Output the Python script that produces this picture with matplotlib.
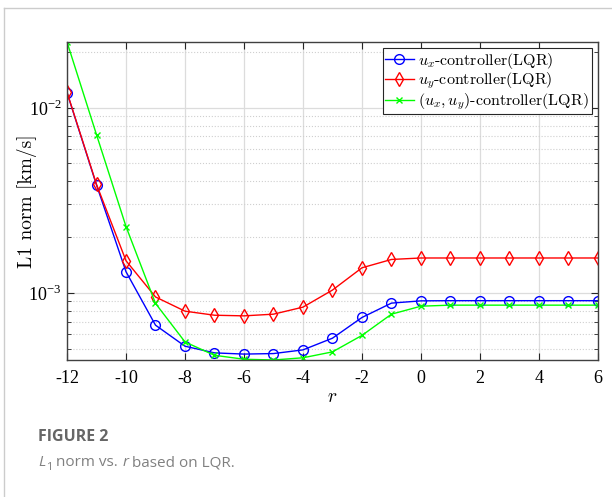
import math
import matplotlib
matplotlib.use('Agg')
import matplotlib.pyplot as plt
from matplotlib.ticker import LogLocator, NullFormatter, FixedLocator, FuncFormatter

plt.rcParams['mathtext.fontset'] = 'cm'

r = [-12, -11, -10, -9, -8, -7, -6, -5, -4, -3, -2, -1, 0, 1, 2, 3, 4, 5, 6]

# L1 norm [km/s]
ux_lqr = [1.205e-2, 3.82e-3, 1.30e-3, 6.69e-4, 5.15e-4, 4.74e-4, 4.67e-4, 4.70e-4, 4.92e-4,
          5.69e-4, 7.36e-4, 8.80e-4, 9.05e-4, 9.07e-4, 9.07e-4, 9.07e-4, 9.07e-4, 9.07e-4, 9.07e-4]
uy_lqr = [1.21e-2, 3.85e-3, 1.49e-3, 9.50e-4, 7.96e-4, 7.57e-4, 7.51e-4, 7.67e-4, 8.37e-4,
          1.035e-3, 1.365e-3, 1.514e-3, 1.542e-3, 1.542e-3, 1.542e-3, 1.542e-3, 1.542e-3, 1.542e-3, 1.542e-3]
uxy_lqr = [2.26e-2, 7.14e-3, 2.28e-3, 8.77e-4, 5.43e-4, 4.60e-4, 4.38e-4, 4.34e-4, 4.46e-4,
           4.80e-4, 5.89e-4, 7.67e-4, 8.47e-4, 8.58e-4, 8.58e-4, 8.58e-4, 8.58e-4, 8.58e-4, 8.58e-4]

labels = [r'$u_x$-controller(LQR)', r'$u_y$-controller(LQR)', r'$(u_x,u_y)$-controller(LQR)']
xticks = [-12, -10, -8, -6, -4, -2, 0, 2, 4, 6]

fig = plt.figure(figsize=(6.12, 4.97), dpi=100)
ax = fig.add_axes([0.1095, 0.2757, 0.8675, 0.6398])

ax.plot(r, ux_lqr, color=(0, 0, 1), marker='o', ms=7, mfc='none', lw=1, label=labels[0])
ax.plot(r, uy_lqr, color=(1, 0, 0), marker='d', ms=7, mfc='none', lw=1, label=labels[1])
ax.plot(r, uxy_lqr, color=(0, 1, 0), marker='x', ms=5, lw=1, label=labels[2])

ax.set_yscale('log')
ax.set_xlim(-12, 6)
ax.set_ylim(4.34e-4, 2.26e-2)
ax.xaxis.set_major_locator(FixedLocator(xticks))
ax.set_xticklabels([str(t) for t in xticks])
ax.yaxis.set_major_locator(LogLocator(base=10, numticks=10))
ax.yaxis.set_minor_locator(LogLocator(base=10, subs=range(2, 10), numticks=20))
ax.yaxis.set_minor_formatter(NullFormatter())

def dec_fmt(v, pos):
    e = int(round(math.log10(v)))
    return r'10$^{\mathregular{%d}}$' % e

ax.yaxis.set_major_formatter(FuncFormatter(dec_fmt))
ax.tick_params(labelfontfamily='Liberation Serif', labelsize=13)
ax.tick_params(axis='x', pad=7)

ax.grid(True, which='major', color='#dcdcdc', lw=0.9, ls='-')
ax.grid(True, which='minor', axis='y', color='#cfcfcf', lw=0.8, ls=':')
ax.set_axisbelow(True)
ax.tick_params(which='both', direction='in', top=True, right=True, color='#262626')
ax.tick_params(which='major', length=5)
ax.tick_params(which='minor', length=3)
for s in ax.spines.values():
    s.set_color('#404040')
    s.set_linewidth(1.0)

ax.set_xlabel(r'$r$', fontsize=14, labelpad=0)
ax.set_ylabel('L1 norm [km/s]', family='cmr10', fontsize=14)
ax.yaxis.set_label_coords(-0.057, 0.5)

leg = ax.legend(loc='upper right', prop={'family': 'cmr10', 'size': 11.5},
                fancybox=False, edgecolor='#262626', framealpha=1,
                borderpad=0.15, labelspacing=0.0, handlelength=1.8, handletextpad=0.3,
                borderaxespad=0.4)
leg.get_frame().set_linewidth(0.8)

# panel frame and caption
fig.add_artist(plt.Line2D([0.007, 0.007], [0.0, 0.984], color='#cccccc', lw=1))
fig.add_artist(plt.Line2D([0.007, 1.0], [0.984, 0.984], color='#cccccc', lw=1))
fig.text(0.062, 0.112, 'FIGURE 2', family='Open Sans', fontweight='bold', fontsize=11.5, color='#666666')
t1 = fig.text(0.062, 0.062, 'L', family='Open Sans', style='italic', fontsize=11, color='#808080')
a1 = plt.annotate('1', xy=(1, 0), xycoords=t1, xytext=(0.5, -2), textcoords='offset points',
                  family='Open Sans', fontsize=8, color='#808080', va='bottom', ha='left',
                  annotation_clip=False)
a2 = plt.annotate(' norm vs. ', xy=(1, 0), xycoords=a1, xytext=(0, 2), textcoords='offset points',
                  family='Open Sans', fontsize=11, color='#808080', va='bottom', ha='left',
                  annotation_clip=False)
a3 = plt.annotate('r', xy=(1, 0), xycoords=a2, family='Open Sans', style='italic', fontsize=11,
                  color='#808080', va='bottom', ha='left', annotation_clip=False)
plt.annotate(' based on LQR.', xy=(1, 0), xycoords=a3, family='Open Sans', fontsize=11,
             color='#808080', va='bottom', ha='left', annotation_clip=False)

fig.savefig('out.png', dpi=100)
